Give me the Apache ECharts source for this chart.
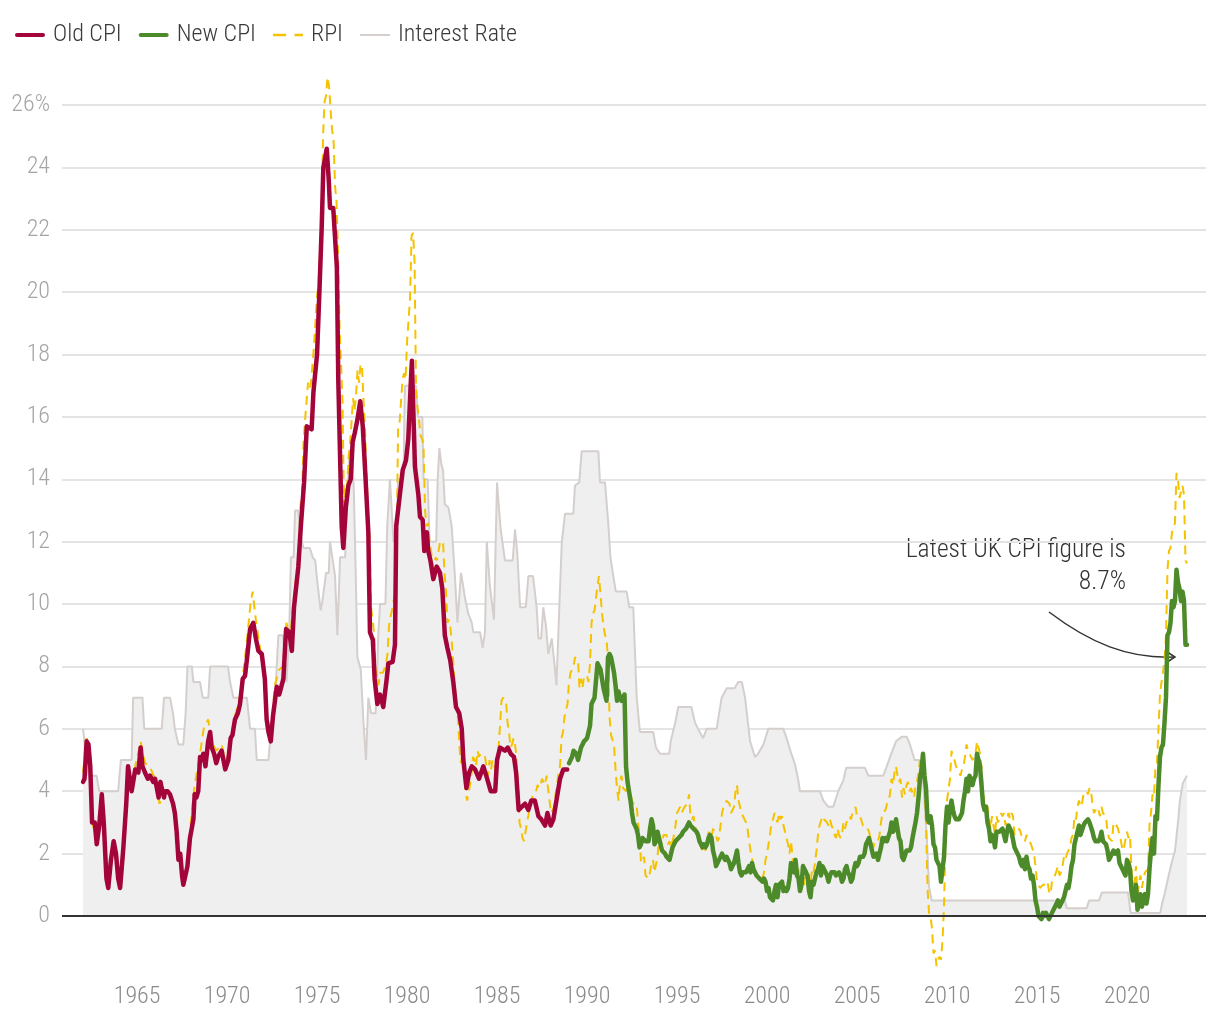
<!DOCTYPE html>
<html>
<head>
<meta charset="utf-8">
<script src="https://cdn.jsdelivr.net/npm/echarts@6/dist/echarts.min.js"></script>
<style>
html,body{margin:0;padding:0;background:#fff;}
#chart{width:1220px;height:1020px;}
</style>
</head>
<body>
<div id="chart"></div>
<script>
// ---------- DATA ----------
const xTickYears = [1965,1970,1975,1980,1985,1990,1995,2000,2005,2010,2015,2020];

// Old CPI (modelled, pre-1989) [decimal year, %]
const oldCpi = [[1962.0,4.3],[1962.08,4.4],[1962.2,5.6],[1962.3,5.5],[1962.4,4.8],[1962.5,3.0],[1962.65,3.0],[1962.76,2.3],[1962.9,2.9],[1963.04,3.9],[1963.15,3.0],[1963.3,1.2],[1963.4,0.9],[1963.55,1.8],[1963.7,2.4],[1963.83,2.0],[1963.95,1.2],[1964.06,0.9],[1964.24,2.2],[1964.4,3.6],[1964.5,4.8],[1964.7,4.0],[1964.9,4.7],[1965.07,4.6],[1965.2,5.4],[1965.3,4.8],[1965.44,4.6],[1965.6,4.4],[1965.72,4.5],[1965.9,4.3],[1966.0,4.4],[1966.2,3.8],[1966.3,4.3],[1966.37,4.1],[1966.5,3.8],[1966.55,4.0],[1966.7,4.0],[1966.83,3.9],[1967.0,3.6],[1967.1,3.3],[1967.2,2.7],[1967.3,1.8],[1967.4,2.0],[1967.5,1.3],[1967.57,1.0],[1967.65,1.2],[1967.8,1.6],[1967.94,2.5],[1968.13,3.1],[1968.2,3.9],[1968.3,3.8],[1968.4,4.0],[1968.5,5.1],[1968.6,5.0],[1968.68,5.2],[1968.8,4.8],[1968.95,5.6],[1969.06,5.9],[1969.15,5.4],[1969.28,5.2],[1969.4,4.9],[1969.5,5.1],[1969.7,5.3],[1969.8,5.0],[1969.9,4.7],[1970.07,5.0],[1970.2,5.7],[1970.3,5.8],[1970.44,6.3],[1970.6,6.5],[1970.72,6.8],[1970.87,7.6],[1971.0,7.7],[1971.1,8.2],[1971.28,9.2],[1971.46,9.4],[1971.6,8.9],[1971.74,8.5],[1971.93,8.4],[1972.1,7.6],[1972.2,6.3],[1972.3,5.9],[1972.43,5.6],[1972.55,6.4],[1972.76,7.35],[1972.9,7.1],[1973.13,7.6],[1973.28,9.2],[1973.46,9.1],[1973.6,8.5],[1973.72,9.9],[1973.96,11.2],[1974.1,12.5],[1974.28,13.9],[1974.43,15.7],[1974.5,15.7],[1974.7,15.6],[1974.8,16.8],[1975.0,18.0],[1975.13,20.0],[1975.26,22.1],[1975.35,24.0],[1975.45,24.3],[1975.54,24.6],[1975.65,23.6],[1975.72,22.7],[1975.9,22.7],[1976.1,20.8],[1976.18,17.2],[1976.37,12.5],[1976.46,11.8],[1976.6,13.1],[1976.74,13.8],[1976.87,14.0],[1976.98,15.2],[1977.1,15.5],[1977.24,15.9],[1977.4,16.5],[1977.54,15.7],[1977.67,14.3],[1977.85,12.3],[1977.94,9.1],[1978.1,8.85],[1978.2,7.6],[1978.35,6.8],[1978.5,7.1],[1978.68,6.7],[1978.87,7.6],[1978.96,8.1],[1979.2,8.15],[1979.33,8.7],[1979.4,12.5],[1979.6,13.5],[1979.76,14.3],[1979.94,14.6],[1980.07,15.3],[1980.2,17.0],[1980.27,17.8],[1980.35,16.2],[1980.44,14.4],[1980.63,13.5],[1980.72,12.8],[1980.87,12.7],[1980.96,11.7],[1981.1,12.3],[1981.18,11.7],[1981.3,11.4],[1981.46,10.8],[1981.65,11.2],[1981.83,11.0],[1981.96,10.5],[1982.1,9.0],[1982.24,8.6],[1982.4,8.2],[1982.57,7.5],[1982.72,6.7],[1982.9,6.5],[1983.04,6.0],[1983.13,5.0],[1983.3,4.1],[1983.45,4.6],[1983.6,4.8],[1983.78,4.7],[1984.0,4.4],[1984.24,4.8],[1984.4,4.5],[1984.65,4.0],[1984.9,4.0],[1985.0,5.0],[1985.17,5.4],[1985.44,5.3],[1985.6,5.4],[1985.76,5.2],[1985.94,5.1],[1986.06,4.6],[1986.2,3.4],[1986.37,3.5],[1986.56,3.6],[1986.74,3.4],[1986.9,3.7],[1987.1,3.7],[1987.3,3.2],[1987.46,3.1],[1987.67,2.9],[1987.8,3.3],[1987.98,2.9],[1988.13,3.1],[1988.3,3.7],[1988.5,4.4],[1988.68,4.7],[1988.9,4.7]];

// New CPI, monthly from Jan 1989
const newCpiStart = 1989;
const newCpi = [
4.9,5.0,5.1,5.3,5.3,5.2,5.0,5.2,5.4,5.5,5.6,5.6,
5.7,5.9,6.1,6.8,6.9,7.0,7.0,8.1,8.0,7.9,7.6,7.3,
7.1,6.9,8.3,8.4,8.3,8.3,7.8,7.4,6.9,7.2,7.0,6.9,
7.0,7.1,4.8,4.3,4.0,3.7,3.3,3.0,2.9,2.8,2.6,2.2,
2.3,2.5,2.5,2.4,2.4,2.4,2.8,3.1,2.9,2.3,2.4,2.7,
2.5,2.3,2.1,2.1,2.0,1.9,1.9,1.8,2.0,2.2,2.3,2.4,
2.4,2.5,2.5,2.6,2.7,2.7,2.8,2.9,3.0,2.9,2.9,2.8,
2.8,2.7,2.6,2.4,2.3,2.2,2.3,2.2,2.3,2.5,2.6,2.5,
2.1,1.9,1.6,1.6,1.8,1.8,2.0,2.0,1.8,1.9,1.9,1.7,
1.5,1.6,1.7,1.9,2.1,1.7,1.4,1.3,1.4,1.4,1.4,1.5,
1.6,1.4,1.7,1.5,1.4,1.3,1.3,1.2,1.2,1.1,1.2,1.1,
0.8,0.9,0.6,0.6,0.5,0.8,1.0,0.6,1.0,1.0,1.1,0.8,
0.9,0.8,0.9,1.2,1.7,1.7,1.4,1.8,1.3,1.2,0.8,1.0,
1.6,1.5,1.5,1.3,0.8,0.6,1.1,1.0,1.0,1.4,1.5,1.7,
1.3,1.6,1.5,1.4,1.3,1.1,1.3,1.4,1.4,1.4,1.3,1.3,
1.4,1.3,1.1,1.2,1.5,1.6,1.4,1.3,1.1,1.2,1.5,1.7,
1.6,1.7,1.9,1.9,1.9,2.0,2.3,2.4,2.5,2.3,2.1,1.9,
1.9,2.0,1.8,2.0,2.2,2.5,2.4,2.5,2.4,2.4,2.7,3.0,
2.7,2.8,3.1,2.8,2.5,2.4,1.9,1.8,1.8,2.1,2.1,2.1,
2.2,2.5,2.5,3.0,3.3,3.8,4.4,4.7,5.2,4.5,4.1,3.1,
3.0,3.2,2.9,2.3,2.2,1.8,1.8,1.6,1.1,1.5,1.9,2.9,
3.5,3.0,3.4,3.7,3.4,3.2,3.1,3.1,3.1,3.2,3.3,3.7,
4.0,4.4,4.0,4.5,4.5,4.2,4.4,4.5,5.2,5.0,4.8,4.2,
3.6,3.4,3.5,3.0,2.8,2.4,2.6,2.5,2.2,2.7,2.7,2.7,
2.7,2.8,2.8,2.4,2.7,2.9,2.8,2.7,2.7,2.2,2.1,2.0,
1.9,1.7,1.6,1.8,1.5,1.9,1.6,1.5,1.2,1.3,1.0,0.5,
0.3,0.0,0.0,-0.1,0.1,0.0,0.1,0.0,-0.1,-0.1,0.1,0.2,
0.3,0.3,0.5,0.3,0.3,0.5,0.6,0.6,1.0,0.9,1.2,1.6,
1.8,2.3,2.3,2.7,2.9,2.6,2.6,2.9,3.0,3.0,3.1,3.0,
3.0,2.7,2.5,2.4,2.4,2.4,2.5,2.7,2.4,2.4,2.3,2.1,
1.8,1.9,1.9,2.1,2.0,2.0,2.1,1.7,1.7,1.5,1.5,1.3,
1.8,1.7,1.5,0.8,0.5,0.6,1.0,0.2,0.5,0.7,0.3,0.6,
0.7,0.4,0.7,1.5,2.1,2.5,2.0,3.2,3.1,4.2,5.1,5.4,
5.5,6.2,7.0,9.0,9.1,9.4,10.1,9.9,10.1,11.1,10.7,10.5,
10.1,10.4,10.1,8.7,8.7];

// RPI before 1974 [decimal year, %]
const rpiEarly = [[1962.0,4.6],[1962.2,5.7],[1962.35,5.2],[1962.5,3.0],[1962.7,2.6],[1963.0,3.6],[1963.4,1.0],[1963.7,2.3],[1964.0,1.0],[1964.25,2.4],[1964.5,4.8],[1964.7,4.2],[1964.9,4.8],[1965.2,5.6],[1965.45,4.9],[1965.7,4.8],[1966.0,4.4],[1966.25,3.6],[1966.5,4.0],[1966.8,3.9],[1967.05,3.4],[1967.3,2.1],[1967.55,1.2],[1967.8,1.6],[1968.05,3.4],[1968.2,4.2],[1968.45,5.0],[1968.7,6.0],[1968.95,6.3],[1969.15,5.6],[1969.4,5.3],[1969.7,5.5],[1969.9,5.0],[1970.1,5.2],[1970.35,6.2],[1970.7,7.0],[1970.9,7.8],[1971.1,8.8],[1971.3,10.0],[1971.42,10.4],[1971.6,9.5],[1971.83,8.6],[1972.05,7.8],[1972.25,6.3],[1972.45,5.9],[1972.65,7.4],[1972.9,7.9],[1973.1,8.0],[1973.3,9.4],[1973.5,8.9],[1973.78,10.6],[1973.92,11.2]];

// RPI, monthly from Jan 1974
const rpiStart = 1974;
const rpiMonthly = [
12.0,13.2,13.5,15.2,15.9,16.5,17.1,16.9,17.1,17.1,18.3,19.1,
19.9,20.2,21.2,21.7,25.0,26.1,26.3,26.9,26.6,25.9,25.2,24.9,
23.4,22.9,21.2,18.9,18.9,16.5,12.9,13.8,13.7,14.7,15.1,15.1,
16.6,16.2,16.7,17.5,17.1,17.7,17.6,16.5,15.6,14.1,13.0,12.1,
9.9,9.5,9.1,7.9,7.7,7.4,7.8,7.8,7.8,7.8,8.1,8.4,
9.3,9.6,9.8,10.1,10.3,11.4,15.6,15.8,16.5,17.2,17.4,17.2,
18.4,19.1,19.8,21.8,21.9,21.0,16.9,16.3,15.9,15.4,15.3,15.1,
13.0,12.5,12.6,12.0,11.7,11.3,10.9,11.5,11.4,11.7,12.0,12.0,
12.0,11.0,10.4,9.4,9.5,9.2,8.7,8.0,7.3,6.8,6.3,5.4,
4.9,5.3,4.6,4.0,3.7,3.7,4.2,4.6,5.1,5.0,4.8,5.3,
5.1,5.2,5.2,5.2,5.1,5.1,4.5,5.0,4.7,5.0,4.9,4.6,
5.0,5.4,6.1,6.9,7.0,7.0,6.9,6.2,5.9,5.4,5.5,5.7,
5.5,5.1,4.2,3.0,2.8,2.5,2.4,2.4,3.0,3.0,3.5,3.7,
3.9,3.9,4.0,4.2,4.1,4.2,4.4,4.4,4.2,4.5,4.1,3.7,
3.3,3.3,3.5,3.9,4.2,4.6,4.8,5.7,5.9,6.4,6.4,6.8,
7.5,7.8,7.9,8.0,8.3,8.3,8.2,7.3,7.6,7.3,7.7,7.7,
7.7,7.5,8.1,9.4,9.7,9.8,9.8,10.6,10.9,10.9,9.7,9.3,
9.0,8.9,8.2,6.4,5.8,5.8,5.5,4.7,4.1,3.7,4.3,4.5,
4.1,4.1,4.0,4.3,4.3,3.9,3.7,3.6,3.6,3.6,3.0,2.6,
1.7,1.8,1.9,1.3,1.3,1.2,1.4,1.7,1.8,1.4,1.4,1.9,
2.5,2.4,2.3,2.6,2.6,2.6,2.3,2.4,2.2,2.2,2.6,2.9,
3.3,3.4,3.5,3.3,3.4,3.5,3.5,3.6,3.9,3.2,3.1,3.2,
2.9,2.7,2.7,2.4,2.2,2.1,2.2,2.1,2.1,2.7,2.7,2.5,
2.8,2.7,2.6,2.4,2.5,2.9,3.3,3.5,3.6,3.7,3.7,3.6,
3.3,3.4,3.5,4.0,4.2,3.7,3.5,3.3,3.2,3.1,3.0,2.8,
2.4,2.1,2.1,1.6,1.3,1.3,1.3,1.1,1.1,1.2,1.4,1.8,
2.0,2.3,2.6,3.0,3.1,3.3,3.3,3.0,3.3,3.1,3.2,2.9,
2.7,2.7,2.3,2.0,2.4,1.9,1.5,1.8,1.7,1.5,0.9,0.7,
1.3,1.0,1.3,1.5,1.1,1.0,1.5,1.4,1.7,2.1,2.6,2.9,
2.9,3.2,3.1,3.1,3.0,2.9,3.1,2.9,2.8,2.6,2.5,2.8,
2.6,2.5,2.6,3.0,2.8,3.0,3.0,3.2,3.1,3.3,3.4,3.5,
3.2,3.2,3.2,3.2,2.9,2.9,2.9,2.8,2.7,2.5,2.4,2.2,
2.4,2.4,2.4,2.6,3.0,3.3,3.3,3.4,3.6,3.7,3.9,4.4,
4.2,4.6,4.8,4.5,4.3,4.4,3.8,4.1,3.9,4.2,4.3,4.0,
4.1,4.1,3.8,4.2,4.3,4.6,5.0,4.8,5.0,4.2,3.0,0.9,
0.1,0.0,-0.4,-1.2,-1.1,-1.6,-1.4,-1.3,-1.4,-0.8,0.3,2.4,
3.7,3.7,4.4,5.3,5.1,5.0,4.8,4.7,4.6,4.5,4.7,4.8,
5.1,5.5,5.3,5.2,5.2,5.0,5.0,5.2,5.6,5.4,5.2,4.8,
3.9,3.7,3.6,3.5,3.1,2.8,3.2,2.9,2.6,3.2,3.0,3.1,
3.3,3.2,3.3,2.9,3.1,3.3,3.1,3.3,3.2,2.6,2.6,2.7,
2.8,2.7,2.5,2.5,2.4,2.6,2.5,2.4,2.3,2.3,2.0,1.6,
1.1,1.0,0.9,0.9,1.0,1.0,1.0,1.1,0.8,0.7,1.1,1.2,
1.3,1.3,1.6,1.3,1.4,1.6,1.9,1.8,2.0,2.0,2.2,2.5,
2.6,3.2,3.1,3.5,3.7,3.5,3.6,3.9,3.9,4.0,3.9,4.1,
4.0,3.6,3.3,3.4,3.3,3.4,3.2,3.5,3.3,3.3,3.2,2.7,
2.5,2.5,2.4,3.0,3.0,2.9,2.8,2.6,2.4,2.1,2.2,2.2,
2.7,2.5,2.6,1.5,1.0,1.1,1.6,0.5,1.1,1.3,0.9,1.2,
1.4,1.4,1.5,2.9,3.3,3.9,3.8,4.8,4.9,6.0,7.1,7.5,
7.8,8.2,9.0,11.1,11.7,11.8,12.3,12.3,12.6,14.2,14.0,13.4,
13.4,13.8,13.5,11.4,11.3];

// Bank interest rate [decimal year, %]
const bankRate = [[1962.0,6.0],[1962.1,6.0],[1962.2,5.0],[1962.3,4.5],[1962.75,4.5],[1962.9,4.0],[1963.95,4.0],[1964.1,5.0],[1964.7,5.0],[1964.78,7.0],[1965.3,7.0],[1965.4,6.0],[1966.37,6.0],[1966.5,7.0],[1966.83,7.0],[1967.0,6.5],[1967.1,6.0],[1967.3,5.5],[1967.57,5.5],[1967.7,6.5],[1967.8,8.0],[1968.04,8.0],[1968.13,7.5],[1968.5,7.5],[1968.65,7.0],[1968.96,7.0],[1969.06,8.0],[1970.05,8.0],[1970.17,7.5],[1970.35,7.0],[1971.1,7.0],[1971.28,6.0],[1971.55,6.0],[1971.65,5.0],[1972.3,5.0],[1972.45,6.0],[1972.7,7.3],[1972.85,9.0],[1973.1,9.0],[1973.2,8.4],[1973.3,7.5],[1973.45,9.0],[1973.55,11.5],[1973.7,11.5],[1973.78,13.0],[1973.96,13.0],[1974.05,12.3],[1974.24,11.8],[1974.6,11.8],[1974.76,11.5],[1974.9,11.4],[1975.0,10.8],[1975.2,9.8],[1975.3,10.1],[1975.5,11.0],[1975.65,11.0],[1975.72,12.0],[1975.85,11.5],[1976.0,10.9],[1976.13,9.0],[1976.28,11.5],[1976.56,11.5],[1976.65,13.0],[1976.8,14.9],[1976.95,15.0],[1977.05,13.5],[1977.15,11.0],[1977.24,8.3],[1977.43,7.9],[1977.57,6.3],[1977.72,5.0],[1977.85,7.0],[1978.0,6.5],[1978.25,6.5],[1978.33,7.5],[1978.4,9.0],[1978.5,10.0],[1978.8,10.0],[1978.9,12.5],[1979.05,14.0],[1979.15,13.0],[1979.25,12.0],[1979.42,12.0],[1979.5,14.0],[1979.8,14.0],[1979.88,17.0],[1980.5,17.0],[1980.6,16.0],[1980.85,16.0],[1980.92,14.0],[1981.15,14.0],[1981.25,12.0],[1981.62,12.0],[1981.7,14.0],[1981.8,15.0],[1981.9,14.5],[1982.0,14.3],[1982.1,13.2],[1982.3,13.1],[1982.48,12.5],[1982.67,10.8],[1982.8,9.4],[1983.0,11.0],[1983.22,10.2],[1983.4,9.7],[1983.6,9.4],[1983.68,9.1],[1984.06,9.1],[1984.2,8.6],[1984.33,9.1],[1984.43,12.0],[1984.6,10.6],[1984.83,9.5],[1985.0,13.9],[1985.2,12.4],[1985.44,11.4],[1985.87,11.4],[1986.0,12.4],[1986.13,11.6],[1986.28,9.9],[1986.6,9.9],[1986.74,10.9],[1987.0,10.9],[1987.2,9.9],[1987.3,8.9],[1987.45,8.9],[1987.57,9.9],[1987.72,9.3],[1987.85,8.4],[1988.04,8.9],[1988.17,8.2],[1988.3,7.4],[1988.46,9.9],[1988.6,12.0],[1988.78,12.9],[1989.24,12.9],[1989.33,13.8],[1989.57,13.9],[1989.7,14.9],[1990.63,14.9],[1990.72,13.9],[1991.0,13.9],[1991.18,12.6],[1991.3,11.5],[1991.46,10.9],[1991.6,10.4],[1992.2,10.4],[1992.35,9.9],[1992.57,9.9],[1992.76,7.0],[1992.94,5.9],[1993.68,5.9],[1993.83,5.4],[1994.06,5.2],[1994.57,5.2],[1994.65,5.6],[1994.9,6.2],[1995.07,6.7],[1995.8,6.7],[1996.0,6.2],[1996.17,6.0],[1996.45,5.7],[1996.65,6.0],[1997.2,6.0],[1997.48,7.0],[1997.76,7.3],[1998.2,7.3],[1998.4,7.5],[1998.6,7.5],[1998.78,7.0],[1999.06,5.6],[1999.33,5.1],[1999.5,5.2],[1999.8,5.5],[2000.07,6.0],[2000.9,6.0],[2001.06,5.75],[2001.3,5.3],[2001.56,4.85],[2001.74,4.35],[2001.83,4.0],[2002.94,4.0],[2003.13,3.7],[2003.4,3.5],[2003.68,3.5],[2003.96,4.0],[2004.24,4.35],[2004.4,4.75],[2005.44,4.75],[2005.63,4.5],[2006.46,4.5],[2006.65,4.8],[2006.9,5.2],[2007.17,5.6],[2007.5,5.75],[2007.76,5.75],[2007.94,5.5],[2008.2,5.0],[2008.46,5.0],[2008.68,4.25],[2008.87,2.65],[2009.0,0.95],[2009.15,0.5],[2016.55,0.5],[2016.65,0.25],[2017.76,0.25],[2017.9,0.5],[2018.45,0.5],[2018.6,0.75],[2020.06,0.75],[2020.2,0.1],[2021.85,0.1],[2021.95,0.4],[2022.1,0.73],[2022.3,1.26],[2022.48,1.7],[2022.67,2.1],[2022.85,3.1],[2022.94,3.7],[2023.1,4.25],[2023.33,4.5]];

// ---------- BUILD ----------
const newCpiData = newCpi.map((v, i) => [newCpiStart + i / 12, v]);
const rpiData = rpiEarly.concat(rpiMonthly.map((v, i) => [rpiStart + i / 12, v]));

const FONT = '"Roboto Condensed","Liberation Sans Narrow","DejaVu Sans Condensed","Arial Narrow",Roboto,sans-serif';
const chart = echarts.init(document.getElementById('chart'), null, {renderer: 'canvas'});

chart.setOption({
  animation: false,
  backgroundColor: '#ffffff',
  textStyle: {fontFamily: FONT},
  legend: {
    left: 10, top: 18,
    itemWidth: 30, itemHeight: 14, itemGap: 17,
    symbolKeepAspect: true,
    data: [
      {name: 'Old CPI', icon: 'path://M2,0H28A2,2,0,0,1,28,4H2A2,2,0,0,1,2,0Z'},
      {name: 'New CPI', icon: 'path://M2,0H28A2,2,0,0,1,28,4H2A2,2,0,0,1,2,0Z'},
      {name: 'RPI', icon: 'path://M0,0H11V2H0Z M18,0H25V2H18Z'},
      {name: 'Interest Rate', icon: 'path://M0,0H30V2H0Z'}
    ],
    textStyle: {fontFamily: FONT, fontSize: 24, fontWeight: 300, color: '#3a3a3a', padding: [0, 0, 0, 3]}
  },
  grid: {left: 62, right: 14, top: 105, bottom: 41.6, containLabel: false},
  xAxis: {
    type: 'value',
    min: 1960.83, max: 2024.39,
    axisLine: {show: false},
    axisTick: {show: false},
    splitLine: {show: false},
    axisLabel: {
      customValues: xTickYears,
      color: '#8a8a8a', fontFamily: FONT, fontSize: 24, fontWeight: 300, margin: 7,
      formatter: v => String(Math.round(v))
    }
  },
  yAxis: {
    type: 'value',
    min: -2, max: 26, interval: 2,
    axisLine: {show: false},
    axisTick: {show: false},
    splitLine: {show: true, showMinLine: false, lineStyle: {color: '#e4e4e4', width: 2}},
    axisLabel: {
      color: '#a5a5a5', fontFamily: FONT, fontSize: 24, fontWeight: 300, margin: 12,
      formatter: v => v < 0 ? '' : (v === 26 ? '26%' : String(v))
    }
  },
  series: [
    {
      name: 'Interest Rate', type: 'line', data: bankRate,
      symbol: 'none', showSymbol: false, z: 1,
      lineStyle: {color: '#d4cfcd', width: 2},
      itemStyle: {color: '#d4cfcd'},
      areaStyle: {color: '#efefef', opacity: 1},
      markLine: {
        silent: true, symbol: ['none', 'none'], label: {show: false},
        lineStyle: {color: '#333333', width: 2, type: 'solid'},
        data: [{yAxis: 0}]
      }
    },
    {
      name: 'RPI', type: 'line', data: rpiData,
      symbol: 'none', showSymbol: false, z: 2, clip: false,
      lineStyle: {color: '#f5c200', width: 2, type: [9, 6]},
      itemStyle: {color: '#f5c200'}
    },
    {
      name: 'Old CPI', type: 'line', data: oldCpi,
      symbol: 'none', showSymbol: false, z: 3, clip: false,
      lineStyle: {color: '#a3053a', width: 4.5, cap: 'round', join: 'round'},
      itemStyle: {color: '#a3053a'}
    },
    {
      name: 'New CPI', type: 'line', data: newCpiData,
      symbol: 'none', showSymbol: false, z: 4, clip: false,
      lineStyle: {color: '#4d8a29', width: 4.5, cap: 'round', join: 'round'},
      itemStyle: {color: '#4d8a29'}
    }
  ],
  graphic: [
    {type: 'text', right: 1220 - 1126, top: 538, style: {text: 'Latest UK CPI figure is', font: '300 25.5px ' + FONT, fill: '#333333', textAlign: 'right'}},
    {type: 'text', right: 1220 - 1126, top: 570, style: {text: '8.7%', font: '300 25.5px ' + FONT, fill: '#333333', textAlign: 'right'}},
    {type: 'bezierCurve', shape: {x1: 1049, y1: 612, cpx1: 1090, cpy1: 643, cpx2: 1128, cpy2: 659, x2: 1175, y2: 657}, style: {stroke: '#333333', lineWidth: 1.5, fill: null}},
    {type: 'polyline', shape: {points: [[1166.5, 651.5], [1175, 657], [1166.5, 662.5]]}, style: {stroke: '#333333', lineWidth: 1.5, fill: null}}
  ]
});
</script>
</body>
</html>
